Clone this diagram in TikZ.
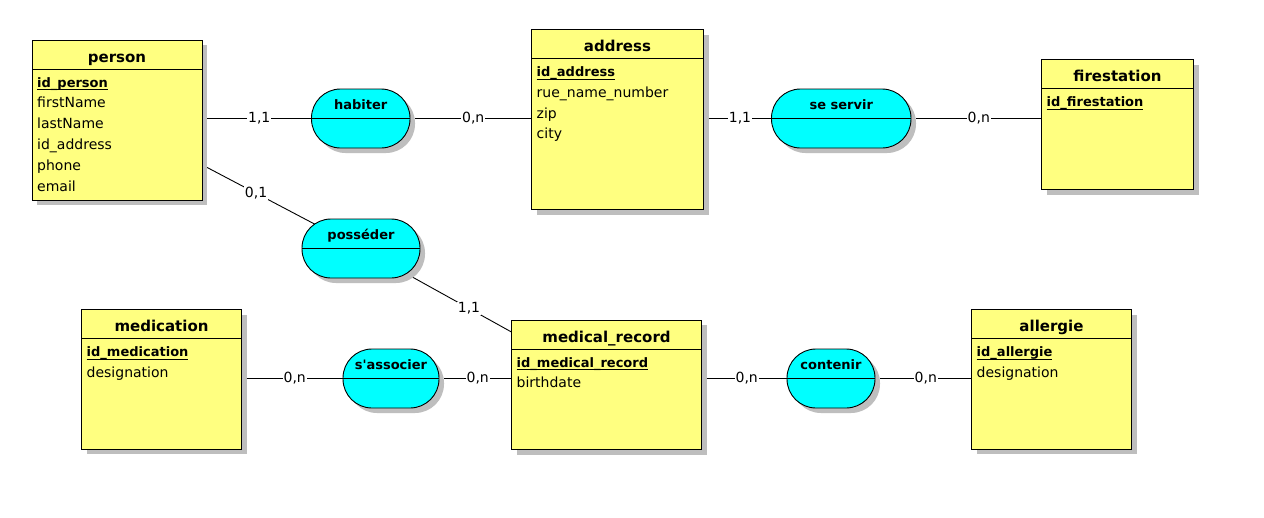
\documentclass[tikz,border=0pt]{standalone}
\usepackage{fontspec}
\setmainfont{DejaVu Sans}
\usetikzlibrary{shadows}

\definecolor{entyellow}{RGB}{255,255,128}
\definecolor{assoccyan}{RGB}{0,255,255}
\definecolor{shadowgray}{RGB}{190,190,190}

\pgfdeclarelayer{bg}
\pgfsetlayers{bg,main}

% underlined identifier
\newcommand{\keyattr}[1]{\setbox0=\hbox{#1}\rlap{\rule[-3pt]{\wd0}{1pt}}\box0}

\tikzset{
  entity/.style={draw, line width=0.9pt, fill=entyellow, anchor=north west,
    inner sep=0pt, outer sep=0pt,
    drop shadow={shadow xshift=5pt, shadow yshift=-5pt, fill=shadowgray, opacity=1, draw=none}},
  assoc/.style={draw, line width=0.9pt, fill=assoccyan, inner sep=0pt, outer sep=0pt,
    minimum height=59pt, rounded corners=29pt,
    drop shadow={shadow xshift=5pt, shadow yshift=-5pt, fill=shadowgray, opacity=1, draw=none}},
  etitle/.style={anchor=base, inner sep=0pt, font=\fontsize{15}{18}\selectfont\bfseries},
  atitle/.style={anchor=base, inner sep=0pt, font=\fontsize{13}{16}\selectfont\bfseries},
  attr/.style={anchor=base west, inner sep=0pt, font=\fontsize{14}{17}\selectfont},
  key/.style={attr, font=\fontsize{13}{16}\selectfont\bfseries},
  card/.style={fill=white, inner sep=1pt, font=\fontsize{14}{17}\selectfont},
  link/.style={line width=0.9pt},
}

\begin{document}
\begin{tikzpicture}[x=1pt,y=-1pt]
    \begin{pgfonlayer}{bg}
        \fill[white] (0,0) rectangle (1264,517);
    \end{pgfonlayer}
    \useasboundingbox (0,0) rectangle (1264,517);

    % entities
    \node[entity, minimum width=170pt, minimum height=160pt] (person) at (32,40) {};
    \draw[link] ([yshift=-29pt]person.north west) -- ([yshift=-29pt]person.north east);
    \node[etitle] (person-t) at ([yshift=-22pt]person.north) {person};
    \node[key] (person-k) at ([xshift=5pt,yshift=-47pt]person.north west) {\keyattr{id\_person}};
    \foreach \a [count=\i] in {firstName,lastName,id\_address,phone,email}
        \node[attr] (person-a\i) at ([xshift=5pt,yshift={-47pt-20.8pt*\i}]person.north west) {\a};

    \node[entity, minimum width=172pt, minimum height=180pt] (address) at (531.5,29.5) {};
    \draw[link] ([yshift=-29pt]address.north west) -- ([yshift=-29pt]address.north east);
    \node[etitle] (address-t) at ([yshift=-22pt]address.north) {address};
    \node[key] (address-k) at ([xshift=5pt,yshift=-47pt]address.north west) {\keyattr{id\_address}};
    \foreach \a [count=\i] in {rue\_name\_number,zip,city}
        \node[attr] (address-a\i) at ([xshift=5pt,yshift={-47pt-20.8pt*\i}]address.north west) {\a};

    \node[entity, minimum width=152pt, minimum height=130pt] (firestation) at (1041.5,59.5) {};
    \draw[link] ([yshift=-29pt]firestation.north west) -- ([yshift=-29pt]firestation.north east);
    \node[etitle] (firestation-t) at ([yshift=-22pt]firestation.north) {firestation};
    \node[key] (firestation-k) at ([xshift=5pt,yshift=-47pt]firestation.north west) {\keyattr{id\_firestation}};

    \node[entity, minimum width=160pt, minimum height=139.5pt] (medication) at (81.5,309.5) {};
    \draw[link] ([yshift=-29pt]medication.north west) -- ([yshift=-29pt]medication.north east);
    \node[etitle] (medication-t) at ([yshift=-22pt]medication.north) {medication};
    \node[key] (medication-k) at ([xshift=5pt,yshift=-47pt]medication.north west) {\keyattr{id\_medication}};
    \node[attr] (medication-a1) at ([xshift=5pt,yshift=-67.8pt]medication.north west) {designation};

    \node[entity, minimum width=190pt, minimum height=129.5pt] (medrecord) at (511.5,320) {};
    \draw[link] ([yshift=-29pt]medrecord.north west) -- ([yshift=-29pt]medrecord.north east);
    \node[etitle] (medrecord-t) at ([yshift=-22pt]medrecord.north) {medical\_record};
    \node[key] (medrecord-k) at ([xshift=5pt,yshift=-47pt]medrecord.north west) {\keyattr{id\_medical\_record}};
    \node[attr] (medrecord-a1) at ([xshift=5pt,yshift=-67.8pt]medrecord.north west) {birthdate};

    \node[entity, minimum width=160pt, minimum height=139.5pt] (allergie) at (971.5,309.5) {};
    \draw[link] ([yshift=-29pt]allergie.north west) -- ([yshift=-29pt]allergie.north east);
    \node[etitle] (allergie-t) at ([yshift=-22pt]allergie.north) {allergie};
    \node[key] (allergie-k) at ([xshift=5pt,yshift=-47pt]allergie.north west) {\keyattr{id\_allergie}};
    \node[attr] (allergie-a1) at ([xshift=5pt,yshift=-67.8pt]allergie.north west) {designation};

    % associations
    \node[assoc, minimum width=98.5pt] (habiter) at (360.75,118.5) {};
    \draw[link] (habiter.west) -- (habiter.east);
    \node[atitle] (habiter-t) at ([yshift=9pt]habiter.center) {habiter};

    \node[assoc, minimum width=139.5pt] (seservir) at (841.25,118.5) {};
    \draw[link] (seservir.west) -- (seservir.east);
    \node[atitle] (seservir-t) at ([yshift=9pt]seservir.center) {se servir};

    \node[assoc, minimum width=118pt] (posseder) at (361,248.5) {};
    \draw[link] (posseder.west) -- (posseder.east);
    \node[atitle] (posseder-t) at ([yshift=9pt]posseder.center) {posséder};

    \node[assoc, minimum width=96pt] (sassocier) at (391,378.5) {};
    \draw[link] (sassocier.west) -- (sassocier.east);
    \node[atitle] (sassocier-t) at ([yshift=9pt]sassocier.center) {s\textquotesingle associer};

    \node[assoc, minimum width=88pt] (contenir) at (831,378.5) {};
    \draw[link] (contenir.west) -- (contenir.east);
    \node[atitle] (contenir-t) at ([yshift=9pt]contenir.center) {contenir};

    % links
    \draw[link] (person.east |- habiter) ++(5,0) -- node[card] (c1) {1,1} (habiter.west);
    \draw[link] (habiter.east) ++(5,0) -- node[card] (c2) {0,n} (habiter -| address.west);
    \draw[link] (address.east |- seservir) ++(5,0) -- node[card] (c3) {1,1} (seservir.west);
    \draw[link] (seservir.east) ++(5,0) -- node[card] (c4) {0,n} (seservir -| firestation.west);
    \draw[link] (medication.east |- sassocier) ++(5,0) -- node[card] (c5) {0,n} (sassocier.west);
    \draw[link] (sassocier.east) ++(5,0) -- node[card] (c6) {0,n} (sassocier -| medrecord.west);
    \draw[link] (medrecord.east |- contenir) ++(5,0) -- node[card] (c7) {0,n} (contenir.west);
    \draw[link] (contenir.east) ++(5,0) -- node[card] (c8) {0,n} (contenir -| allergie.west);

    \begin{pgfonlayer}{bg}
        \draw[link] (person.center) -- node[card, pos=0.57] (c9) {0,1} (posseder.center);
        \draw[link] (posseder.center) -- node[card, pos=0.44] (c10) {1,1} (medrecord.center);
    \end{pgfonlayer}

\end{tikzpicture}
\end{document}
